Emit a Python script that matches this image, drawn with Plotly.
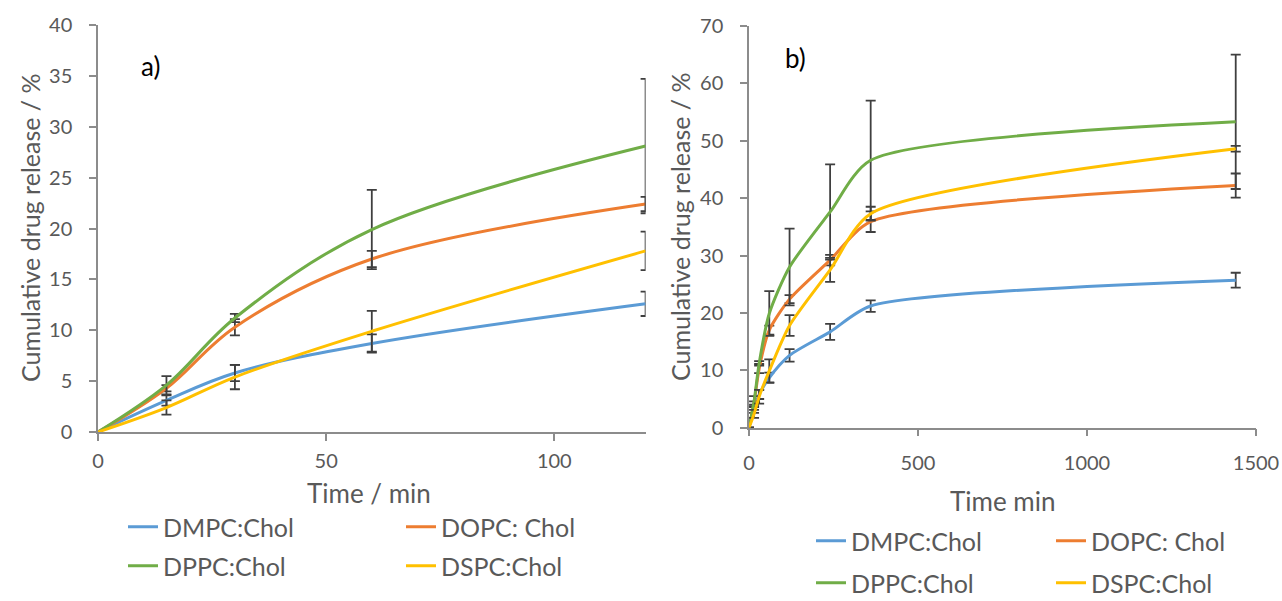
import plotly.graph_objects as go

# ---------------- data ----------------
series_names = ["DMPC:Chol", "DOPC: Chol", "DPPC:Chol", "DSPC:Chol"]
colors = ["#5B9BD5", "#ED7D31", "#70AD47", "#FFC000"]

# panel a)
time_a = [0, 15, 30, 60, 120]
dmpc_a = [0, 3.1, 5.8, 8.7, 12.6]
dopc_a = [0, 4.3, 10.3, 17.0, 22.4]
dppc_a = [0, 4.6, 11.2, 19.9, 28.1]
dspc_a = [0, 2.4, 5.4, 9.9, 17.8]
dmpc_a_err = [0, 0.5, 0.8, 0.9, 1.2]
dopc_a_err = [0, 0.3, 0.8, 0.8, 0.7]
dppc_a_err = [0, 0.9, 0.4, 3.9, 6.6]
dspc_a_err = [0, 0.7, 1.2, 2.0, 1.9]

# panel b)
time_b = [0, 15, 30, 60, 120, 240, 360, 1440]
dmpc_b = [0, 3.1, 5.8, 8.7, 12.6, 16.7, 21.2, 25.7]
dopc_b = [0, 4.3, 10.3, 17.0, 22.4, 29.2, 35.9, 42.2]
dppc_b = [0, 4.6, 11.2, 19.9, 28.0, 37.6, 46.6, 53.3]
dspc_b = [0, 2.4, 5.4, 9.9, 17.8, 27.5, 37.3, 48.6]
dmpc_b_err = [0, 0.5, 0.8, 0.9, 1.1, 1.4, 1.0, 1.3]
dopc_b_err = [0, 0.3, 0.8, 0.8, 0.7, 0.9, 1.8, 2.1]
dppc_b_err = [0, 0.9, 0.4, 3.9, 6.7, 8.3, 10.4, 11.7]
dspc_b_err = [0, 0.7, 1.2, 2.0, 1.8, 2.1, 1.2, 0.5]

ticks_a_x = [0, 50, 100]
ticks_a_y = [0, 5, 10, 15, 20, 25, 30, 35, 40]
ticks_b_x = [0, 500, 1000, 1500]
ticks_b_y = [0, 10, 20, 30, 40, 50, 60, 70]

# ---------------- figure ----------------
W, H = 1282, 601
FONT = "Lato, 'Open Sans', sans-serif"
TXT = "#595959"
AX = "#8C8C8C"
ERR = "#3F3F3F"

fig = go.Figure()

vals_a = [dmpc_a, dopc_a, dppc_a, dspc_a]
errs_a = [dmpc_a_err, dopc_a_err, dppc_a_err, dspc_a_err]
vals_b = [dmpc_b, dopc_b, dppc_b, dspc_b]
errs_b = [dmpc_b_err, dopc_b_err, dppc_b_err, dspc_b_err]
legs_a = ["legend", "legend", "legend2", "legend2"]
legs_b = ["legend3", "legend3", "legend4", "legend4"]

for i in range(4):
    fig.add_trace(go.Scatter(
        x=time_a, y=vals_a[i], mode="lines", name=series_names[i],
        line=dict(color=colors[i], width=3, shape="spline", smoothing=1),
        error_y=dict(type="data", array=errs_a[i], visible=True,
                     color=ERR, thickness=1.8, width=5),
        xaxis="x", yaxis="y", legend=legs_a[i]))
for i in range(4):
    fig.add_trace(go.Scatter(
        x=time_b, y=vals_b[i], mode="lines", name=series_names[i],
        line=dict(color=colors[i], width=3, shape="spline", smoothing=0.7),
        error_y=dict(type="data", array=errs_b[i], visible=True,
                     color=ERR, thickness=1.8, width=5),
        xaxis="x2", yaxis="y2", legend=legs_b[i]))

def px_x(p):
    return p / W

def px_y(p):
    return 1 - p / H

axis_common = dict(showline=True, linecolor=AX, linewidth=1.5, ticks="outside",
                   tickcolor=AX, ticklen=7, tickwidth=1.5, showgrid=False,
                   zeroline=False, tickfont=dict(family=FONT, size=20, color=TXT))

fig.update_layout(
    width=W, height=H, margin=dict(l=0, r=0, t=0, b=0, autoexpand=False),
    paper_bgcolor="white", plot_bgcolor="white",
    font=dict(family=FONT, color=TXT),
    xaxis=dict(domain=[px_x(98), px_x(645.6)], range=[0, 120], tickvals=ticks_a_x,
               anchor="y", ticklabelstandoff=3, **axis_common),
    yaxis=dict(domain=[px_y(432), px_y(25)], range=[0, 40], tickvals=ticks_a_y,
               anchor="x", ticklabelstandoff=13, **axis_common),
    xaxis2=dict(domain=[px_x(749), px_x(1256)], range=[0, 1500], tickvals=ticks_b_x,
                anchor="y2", ticklabelstandoff=10, **axis_common),
    yaxis2=dict(domain=[px_y(427.7), px_y(26)], range=[0, 70], tickvals=ticks_b_y,
                anchor="x2", ticklabelstandoff=13, **axis_common),
    showlegend=True,
)

leg_common = dict(orientation="h", font=dict(family=FONT, size=25, color=TXT),
                  bgcolor="rgba(0,0,0,0)", xanchor="left", yanchor="middle",
                  itemclick=False, itemdoubleclick=False, traceorder="normal")
fig.update_layout(
    legend=dict(x=px_x(123), y=px_y(527), entrywidth=233, entrywidthmode="pixels", **leg_common),
    legend2=dict(x=px_x(123), y=px_y(566), entrywidth=233, entrywidthmode="pixels", **leg_common),
    legend3=dict(x=px_x(811), y=px_y(541), entrywidth=195, entrywidthmode="pixels", **leg_common),
    legend4=dict(x=px_x(811), y=px_y(583), entrywidth=195, entrywidthmode="pixels", **leg_common),
)

ann = [
    dict(text="Cumulative drug release / %", x=px_x(30), y=px_y(228), textangle=-90,
         font=dict(family=FONT, size=25, color=TXT)),
    dict(text="Cumulative drug release / %", x=px_x(680), y=px_y(227), textangle=-90,
         font=dict(family=FONT, size=25, color=TXT)),
    dict(text="Time / min", x=px_x(369), y=px_y(493), font=dict(family=FONT, size=26, color=TXT)),
    dict(text="Time min", x=px_x(1003), y=px_y(501), font=dict(family=FONT, size=26, color=TXT)),
    dict(text="a)", x=px_x(150), y=px_y(66), font=dict(family=FONT, size=26, color="#000000")),
    dict(text="b)", x=px_x(795), y=px_y(58), font=dict(family=FONT, size=26, color="#000000")),
]
for a in ann:
    a.update(xref="paper", yref="paper", showarrow=False, xanchor="center", yanchor="middle")
fig.update_layout(annotations=ann)

fig.write_html(
    "out.html",
    config={"displayModeBar": False},
    post_script="document.body.style.margin='0';document.body.style.overflow='hidden';",
)
